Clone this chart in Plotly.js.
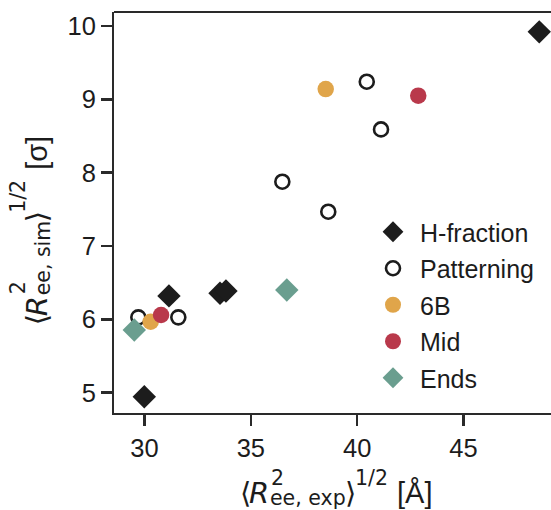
<!DOCTYPE html>
<html>
<head>
<meta charset="utf-8">
<script src="https://cdn.plot.ly/plotly-3.0.1.min.js"></script>
<style>body{margin:0;padding:0;background:#fff;} #plot{width:551px;height:510px;}</style>
</head>
<body>
<div id="plot"></div>
<script>
// ---- data ----
const hfracX = [48.56, 31.15, 33.55, 33.83, 29.99];
const hfracY = [9.92, 6.32, 6.355, 6.386, 4.944];
const pattX = [29.71, 31.59, 40.45, 41.12, 36.48, 38.64];
const pattY = [6.027, 6.027, 9.24, 8.59, 7.877, 7.468];
const b6X = [38.52, 30.29];
const b6Y = [9.14, 5.967];
const midX = [42.87, 30.78];
const midY = [9.05, 6.059];
const endsX = [36.69, 29.52];
const endsY = [6.40, 5.854];
const seriesNames = ["H-fraction", "Patterning", "6B", "Mid", "Ends"];
const xTicks = [30, 35, 40, 45];
const yTicks = [5, 6, 7, 8, 9, 10];

// ---- layout geometry ----
const W = 551, H = 510;
const M = {l: 114, r: 0, t: 12, b: 97};
const pw = W - M.l - M.r, ph = H - M.t - M.b;
const px2x = p => (p - M.l) / pw;
const py2y = p => (H - M.b - p) / ph;

const dark = '#1c1c1c';
const spine = '#2a2a2a';
const mathFont = 'DejaVu Sans';
const txtFont = 'Liberation Sans';

const traces = [
  {x: hfracX, y: hfracY, name: seriesNames[0], mode: 'markers', type: 'scatter',
   marker: {symbol: 'diamond', size: 18, color: dark, line: {width: 0}}},
  {x: pattX, y: pattY, name: seriesNames[1], mode: 'markers', type: 'scatter',
   marker: {symbol: 'circle-open', size: 14, color: dark, line: {width: 2.6, color: dark}}},
  {x: b6X, y: b6Y, name: seriesNames[2], mode: 'markers', type: 'scatter',
   marker: {symbol: 'circle', size: 16.5, color: '#E0A54A', line: {width: 0}}},
  {x: midX, y: midY, name: seriesNames[3], mode: 'markers', type: 'scatter',
   marker: {symbol: 'circle', size: 16.5, color: '#B9394B', line: {width: 0}}},
  {x: endsX, y: endsY, name: seriesNames[4], mode: 'markers', type: 'scatter',
   marker: {symbol: 'diamond', size: 18, color: '#6A9E8F', line: {width: 0}}}
];
traces.forEach((t, i) => { t.legendgroup = 'g' + i; t.cliponaxis = false; });

function hPiece(text, left, base, size, font) {
  return {text: text, xref: 'paper', yref: 'paper', x: px2x(left), y: py2y(base - 0.35 * size),
    xanchor: 'left', yanchor: 'middle', showarrow: false, borderpad: 0,
    font: {family: font, size: size, color: dark}};
}
function vPiece(text, bottom, base, size, font) {
  return {text: text, xref: 'paper', yref: 'paper', x: px2x(base - 0.35 * size), y: py2y(bottom),
    xanchor: 'center', yanchor: 'bottom', textangle: -90, showarrow: false, borderpad: 0,
    font: {family: font, size: size, color: dark}};
}
const MF = 29, SF = 20.5;
// x title
const x0 = 239;
const annotations = [
  hPiece('⟨', x0, 503, MF, mathFont),
  hPiece('<i>R</i>', x0 + 8.5, 503, MF, mathFont),
  hPiece('2', x0 + 31, 485, SF, mathFont),
  hPiece('ee, exp', x0 + 30, 505, SF, mathFont),
  hPiece('⟩', x0 + 105, 503, MF, mathFont),
  hPiece('1/2', x0 + 114.5, 485, SF, mathFont),
  hPiece('[Å]', x0 + 157, 503, MF, txtFont)
];
// y title (bottom-to-top)
const y0 = 326;
annotations.push(
  vPiece('⟨', y0, 47, MF, mathFont),
  vPiece('<i>R</i>', y0 - 8.5, 47, MF, mathFont),
  vPiece('2', y0 - 31, 25, SF, mathFont),
  vPiece('ee, sim', y0 - 30, 50, SF, mathFont),
  vPiece('⟩', y0 - 103, 47, MF, mathFont),
  vPiece('1/2', y0 - 112.5, 25, SF, mathFont),
  vPiece('[σ]', y0 - 155, 47, MF, txtFont)
);

const axisCommon = {
  showline: true, linewidth: 2, linecolor: spine, mirror: false,
  ticks: 'outside', ticklen: 11, tickwidth: 2.4, tickcolor: spine,
  showgrid: false, zeroline: false,
  tickfont: {family: txtFont, size: 25.5, color: dark}
};

const layout = {
  width: W, height: H,
  margin: M,
  paper_bgcolor: '#fff', plot_bgcolor: '#fff',
  showlegend: true,
  xaxis: Object.assign({}, axisCommon, {range: [28.566, 49.112], tickmode: 'array', tickvals: xTicks,
    ticktext: xTicks.map(String)}),
  yaxis: Object.assign({}, axisCommon, {range: [4.723, 10.191], tickmode: 'array', tickvals: yTicks,
    ticktext: yTicks.map(String)}),
  legend: {x: px2x(366), y: py2y(209), xanchor: 'left', yanchor: 'top',
    bgcolor: 'rgba(0,0,0,0)', borderwidth: 0, tracegroupgap: 1, itemwidth: 44,
    font: {family: txtFont, size: 25, color: dark}},
  annotations: annotations,
  shapes: [{type: 'line', xref: 'paper', yref: 'paper', x0: 0, x1: 1, y0: 1, y1: 1,
    line: {color: spine, width: 2}}]
};

Plotly.newPlot('plot', traces, layout, {displayModeBar: false, staticPlot: true});
</script>
</body>
</html>
